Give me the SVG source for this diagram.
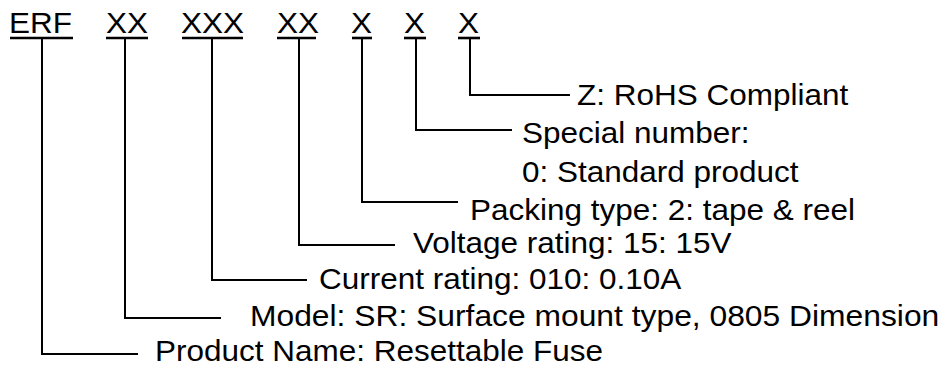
<svg xmlns="http://www.w3.org/2000/svg" width="946" height="368" viewBox="0 0 946 368">
<style>
.t{font-family:"Liberation Sans",Arial,Helvetica,sans-serif;font-size:29px;fill:#000}
.u{stroke:#000;stroke-width:2.6;fill:none}
.c{stroke:#000;stroke-width:2;fill:none}
</style>
<rect width="946" height="368" fill="#fff"/>
<g id="code">
<g id="seg-erf"><text class="t" transform="translate(9,33) scale(1.086,1)">ERF</text><line class="u" x1="10" y1="38" x2="73" y2="38"/></g>
<g id="seg-model"><text class="t" transform="translate(106,33) scale(1.086,1)">XX</text><line class="u" x1="106" y1="38" x2="148" y2="38"/></g>
<g id="seg-current"><text class="t" transform="translate(181,33) scale(1.086,1)">XXX</text><line class="u" x1="182" y1="38" x2="243" y2="38"/></g>
<g id="seg-voltage"><text class="t" transform="translate(277,33) scale(1.086,1)">XX</text><line class="u" x1="277" y1="38" x2="316" y2="38"/></g>
<g id="seg-packing"><text class="t" transform="translate(351,33) scale(1.086,1)">X</text><line class="u" x1="352" y1="38" x2="372" y2="38"/></g>
<g id="seg-special"><text class="t" transform="translate(404,33) scale(1.086,1)">X</text><line class="u" x1="404" y1="38" x2="426" y2="38"/></g>
<g id="seg-rohs"><text class="t" transform="translate(458,33) scale(1.086,1)">X</text><line class="u" x1="458" y1="38" x2="480" y2="38"/></g>
</g>
<g id="connectors">
<polyline class="c" points="470,39 470,95 570,95"/>
<polyline class="c" points="416,39 416,130 512,130"/>
<polyline class="c" points="362,39 362,202 458,202"/>
<polyline class="c" points="299,39 299,245 395,245"/>
<polyline class="c" points="212,39 212,280 307,280"/>
<polyline class="c" points="125,39 125,318 221,318"/>
<polyline class="c" points="42,39 42,354 138,354"/>
</g>
<g id="label-rohs"><text class="t" transform="translate(577,105) scale(1.086,1)">Z: RoHS Compliant</text></g>
<g id="label-special"><text class="t" transform="translate(522,143) scale(1.086,1)">Special number:</text><text class="t" transform="translate(522,182) scale(1.086,1)">0: Standard product</text></g>
<g id="label-packing"><text class="t" transform="translate(470,220) scale(1.086,1)">Packing type: 2: tape &amp; reel</text></g>
<g id="label-voltage"><text class="t" transform="translate(413,253) scale(1.086,1)">Voltage rating: 15: 15V</text></g>
<g id="label-current"><text class="t" transform="translate(319,289) scale(1.086,1)">Current rating: 010: 0.10A</text></g>
<g id="label-model"><text class="t" transform="translate(250,326) scale(1.097,1)">Model: SR: Surface mount type, 0805 Dimension</text></g>
<g id="label-product"><text class="t" transform="translate(155,361) scale(1.086,1)">Product Name: Resettable Fuse</text></g>
</svg>
